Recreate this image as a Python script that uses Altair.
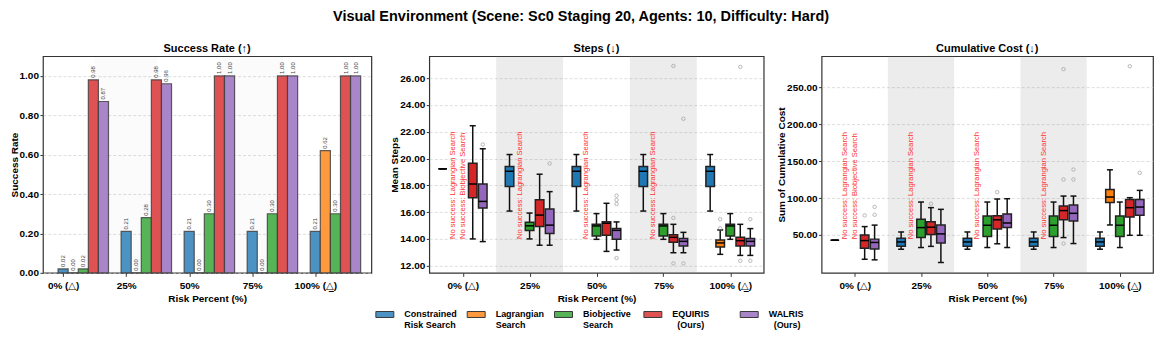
import json
import altair as alt
import pandas as pd

FONT = "Liberation Sans, DejaVu Sans, sans-serif"

# ---------------- data ----------------
categories = ["0% (△)", "25%", "50%", "75%", "100% (△̲)"]
methods = ["Constrained Risk Search", "Lagrangian Search", "Biobjective Search",
           "EQUIRIS (Ours)", "WALRIS (Ours)"]
NB = "\u00a0"
ZW = "\u200b"
legend_lines = [["Constrained", "Risk Search"], ["Lagrangian", "Search"],
                ["Biobjective" + NB + ZW, "Search"],
                ["EQUIRIS" + NB * 8 + ZW, ZW + NB * 2 + "(Ours)"],
                ["WALRIS", ZW + NB * 2 + "(Ours)"]]
bar_colors = ["#4c92c3", "#ff993e", "#56b356", "#de5253", "#a985ca"]
box_colors = ["#1f77b4", "#ff7f0e", "#2ca02c", "#d62728", "#9467bd"]

# success rate per risk level
success_constrained = [0.02, 0.21, 0.21, 0.21, 0.21]
success_lagrangian = [0.00, 0.00, 0.00, 0.00, 0.62]
success_biobjective = [0.02, 0.28, 0.30, 0.30, 0.30]
success_equiris = [0.98, 0.98, 1.00, 1.00, 1.00]
success_walris = [0.87, 0.96, 1.00, 1.00, 1.00]

# box statistics (low whisker, q1, median, q3, high whisker); None = no success
steps_constrained = [(19.23, 19.23, 19.23, 19.23, 19.23), (16.08, 17.92, 19.05, 19.40, 20.30),
                     (16.08, 17.92, 19.05, 19.40, 20.30), (16.08, 17.92, 19.05, 19.40, 20.30),
                     (16.08, 17.92, 19.05, 19.40, 20.30)]
steps_lagrangian = [None, None, None, None, (12.85, 13.40, 13.70, 13.92, 14.67)]
steps_biobjective = [None, (14.00, 14.63, 14.98, 15.25, 15.93), (13.97, 14.22, 14.97, 15.09, 15.89),
                     (13.97, 14.22, 14.97, 15.09, 15.89), (13.97, 14.22, 14.97, 15.09, 15.89)]
steps_equiris = [(14.00, 17.08, 18.10, 19.65, 22.45), (13.53, 14.93, 15.78, 16.93, 18.83),
                 (13.07, 14.27, 15.17, 15.29, 16.66), (12.97, 13.75, 14.12, 14.32, 15.09),
                 (12.77, 13.47, 13.87, 14.12, 15.09)]
steps_walris = [(13.80, 16.30, 16.80, 18.10, 20.73), (13.53, 14.40, 15.03, 16.23, 17.53),
                (13.17, 13.97, 14.64, 14.77, 15.27), (12.97, 13.47, 13.82, 14.04, 14.49),
                (12.77, 13.47, 13.82, 14.04, 14.77)]
steps_outliers_constrained = [[], [], [], [], []]
steps_outliers_lagrangian = [[], [], [], [], [15.47, 14.80]]
steps_outliers_biobjective = [[], [], [], [], []]
steps_outliers_equiris = [[], [], [], [26.91, 15.57, 12.17], [26.84, 12.37]]
steps_outliers_walris = [[21.05], [19.63], [17.24, 16.91, 16.61, 12.57], [22.97, 12.17], [15.47, 12.37]]

cost_constrained = [(42.8, 42.8, 42.8, 42.8, 42.8), (30.6, 34.7, 40.5, 45.5, 54.0),
                    (30.6, 34.7, 40.5, 45.5, 54.0), (30.6, 34.7, 40.5, 45.5, 54.0),
                    (30.6, 34.7, 40.5, 45.5, 54.0)]
cost_lagrangian = [None, None, None, None, (63.5, 94.1, 101.4, 111.7, 138.3)]
cost_biobjective = [None, (32.9, 46.4, 59.9, 71.2, 94.6), (32.9, 47.7, 63.1, 75.7, 94.6),
                    (32.9, 47.7, 63.1, 75.7, 94.6), (32.9, 47.7, 63.1, 75.7, 94.6)]
cost_equiris = [(17.0, 32.0, 42.3, 50.0, 61.3), (34.5, 50.5, 60.5, 68.0, 87.0),
                (38.0, 58.0, 70.5, 76.0, 98.7), (46.4, 70.5, 83.0, 89.2, 102.7),
                (49.5, 74.3, 86.9, 98.2, 100.5)]
cost_walris = [(16.2, 31.0, 39.8, 44.3, 63.3), (12.6, 39.2, 51.4, 63.5, 84.7),
               (32.9, 59.9, 66.2, 78.4, 99.1), (38.3, 68.9, 79.3, 90.5, 102.7),
               (49.5, 76.6, 87.8, 98.2, 110.4)]
cost_outliers_constrained = [[], [], [], [], []]
cost_outliers_lagrangian = [[], [], [], [], []]
cost_outliers_biobjective = [[], [], [], [], []]
cost_outliers_equiris = [[76.4], [92.3], [108.0], [274.8, 125.2, 38.3], [278.8]]
cost_outliers_walris = [[88.0, 77.3], [], [], [138.7, 125.2], [134.2]]

# "no success" notes: (risk index, method index)
no_success_notes = [(0, 1), (0, 2), (1, 1), (2, 1), (3, 1)]
steps_note_y = 14.0
cost_note_y = 44.0

shade_start = [0.5, 2.5]
shade_end = [1.5, 3.5]

box_offsets = [-0.30, -0.15, 0.0, 0.15, 0.30]
bar_step = 0.16
box_half = 0.064
cap_half = 0.045

# ---------------- frames ----------------
success_all = [success_constrained, success_lagrangian, success_biobjective,
               success_equiris, success_walris]
bar_df = pd.DataFrame([
    dict(method=m, k=k, cat=c, value=v)
    for k, (m, vals) in enumerate(zip(methods, success_all))
    for c, v in enumerate(vals)
])


def box_frames(stats_all, outliers_all):
    rows, outs = [], []
    for k, (m, stats, ols) in enumerate(zip(methods, stats_all, outliers_all)):
        for c, s in enumerate(stats):
            if s is not None:
                lo, q1, med, q3, hi = s
                rows.append(dict(method=m, cat=c, off=box_offsets[k], color=box_colors[k],
                                 lo=lo, q1=q1, med=med, q3=q3, hi=hi))
            for o in ols[c]:
                outs.append(dict(method=m, cat=c, off=box_offsets[k], v=o))
    return pd.DataFrame(rows), pd.DataFrame(outs)


steps_df, steps_out = box_frames(
    [steps_constrained, steps_lagrangian, steps_biobjective, steps_equiris, steps_walris],
    [steps_outliers_constrained, steps_outliers_lagrangian, steps_outliers_biobjective,
     steps_outliers_equiris, steps_outliers_walris])
cost_df, cost_out = box_frames(
    [cost_constrained, cost_lagrangian, cost_biobjective, cost_equiris, cost_walris],
    [cost_outliers_constrained, cost_outliers_lagrangian, cost_outliers_biobjective,
     cost_outliers_equiris, cost_outliers_walris])


def notes_df(y):
    return pd.DataFrame([
        dict(cat=c, off=box_offsets[k], y=y, text="No success: " + methods[k])
        for c, k in no_success_notes
    ])


shade_df = pd.DataFrame(dict(s=shade_start, e=shade_end))

label_expr = json.dumps(categories, ensure_ascii=False) + "[datum.value]"


def legend_expr():
    parts = []
    for m, lines in zip(methods, legend_lines):
        parts.append(f"datum.label == {json.dumps(m)} ? {json.dumps(lines, ensure_ascii=False)} : ")
    return "".join(parts) + "datum.label"


def xenc(field, domain, title):
    return alt.X(field, type="quantitative",
                 scale=alt.Scale(domain=domain, nice=False, zero=False),
                 axis=alt.Axis(values=[0, 1, 2, 3, 4], labelExpr=label_expr, title=title,
                               grid=False, tickSize=3.5, labelPadding=4, titlePadding=3))


def yenc(field, domain, values, title):
    return alt.Y(field, type="quantitative",
                 scale=alt.Scale(domain=domain, nice=False, zero=False),
                 axis=alt.Axis(values=values, format=".2f", title=title, grid=True,
                               tickSize=3, labelPadding=1.5, titlePadding=0))


# ---------------- panel 1: success rate ----------------
XD1 = [-0.32, 4.89]
YD1 = [0, 1.1]
yv1 = [0, 0.2, 0.4, 0.6, 0.8, 1.0]
XT = "Risk Percent (%)"
base1 = alt.Chart(bar_df).transform_calculate(
    xc=f"datum.cat + datum.k * {bar_step}",
    x0=f"datum.cat + datum.k * {bar_step} - {bar_step / 2}",
    x1=f"datum.cat + datum.k * {bar_step} + {bar_step / 2}",
)
shade1 = alt.Chart(shade_df).mark_rect(color="gray", opacity=0.035).encode(
    x=xenc("s", XD1, XT), x2="e")
bars = base1.mark_bar(stroke="#3a3a3a", strokeWidth=1.2, strokeOpacity=0.8).encode(
    x=xenc("x0", XD1, XT), x2="x1",
    y=yenc("value", YD1, yv1, "Success Rate"), y2=alt.datum(0),
    color=alt.Color("method:N", scale=alt.Scale(domain=methods, range=bar_colors),
                    legend=alt.Legend(
                        orient="none", legendX=332, legendY=248, direction="horizontal",
                        title=None, symbolType="M-0.9,-0.3H0.9V0.3H-0.9Z", symbolSize=400,
                        labelExpr=legend_expr(), labelFont=FONT, labelFontWeight="bold",
                        labelFontSize=9, labelColor="black", columnPadding=7.5, labelOffset=9,
                        symbolStrokeColor="#3a3a3a", symbolStrokeWidth=1, symbolOpacity=1)),
)
bar_text = base1.mark_text(angle=270, align="left", baseline="middle", dx=2, fontSize=6,
                           color="#444", font=FONT).encode(
    x=xenc("xc", XD1, XT),
    y=yenc("value", YD1, yv1, "Success Rate"),
    text=alt.Text("value:Q", format=".2f"))
p1 = alt.layer(shade1, bars, bar_text).properties(
    width=329, height=217,
    title=alt.TitleParams("Success Rate (↑)", fontSize=11, offset=2))


# ---------------- box panels ----------------
def box_panel(df, outs, notes, ydom, yvals, ytitle, title, width):
    XD = [-0.5, 4.5]
    base = alt.Chart(df).transform_calculate(
        xc="datum.cat + datum.off",
        xl=f"datum.cat + datum.off - {box_half}",
        xr=f"datum.cat + datum.off + {box_half}",
        cl=f"datum.cat + datum.off - {cap_half}",
        cr=f"datum.cat + datum.off + {cap_half}",
    )
    shade = alt.Chart(shade_df).mark_rect(color="gray", opacity=0.15).encode(
        x=xenc("s", XD, XT), x2="e")
    whisk = base.mark_rule(color="#111", strokeWidth=1.5).encode(
        x=xenc("xc", XD, XT), y=yenc("lo", ydom, yvals, ytitle), y2="hi")
    cap_lo = base.mark_rule(color="#111", strokeWidth=1.5).encode(
        x=xenc("cl", XD, XT), x2="cr", y=yenc("lo", ydom, yvals, ytitle))
    cap_hi = base.mark_rule(color="#111", strokeWidth=1.5).encode(
        x=xenc("cl", XD, XT), x2="cr", y=yenc("hi", ydom, yvals, ytitle))
    box = base.mark_bar(stroke="#222", strokeWidth=1.5).encode(
        x=xenc("xl", XD, XT), x2="xr", y=yenc("q1", ydom, yvals, ytitle), y2="q3",
        fill=alt.Fill("color:N", scale=None))
    med = base.mark_rule(color="#000", strokeWidth=1.5).encode(
        x=xenc("xl", XD, XT), x2="xr", y=yenc("med", ydom, yvals, ytitle))
    pts = alt.Chart(outs).transform_calculate(xc="datum.cat + datum.off").mark_point(
        shape="circle", filled=False, color="#9a9a9a", size=12, strokeWidth=1).encode(
        x=xenc("xc", XD, XT), y=yenc("v", ydom, yvals, ytitle))
    txt = alt.Chart(notes).transform_calculate(xc="datum.cat + datum.off").mark_text(
        angle=270, align="left", baseline="middle", fontSize=7.6, color="#ff3030",
        font=FONT).encode(
        x=xenc("xc", XD, XT), y=yenc("y", ydom, yvals, ytitle), text="text:N")
    return alt.layer(shade, whisk, cap_lo, cap_hi, box, med, pts, txt).properties(
        width=width, height=217,
        title=alt.TitleParams(title, fontSize=11, offset=2))


p2 = box_panel(steps_df, steps_out, notes_df(steps_note_y), [11.47, 27.64],
               [12, 14, 16, 18, 20, 22, 24, 26], "Mean Steps", "Steps (↓)", 335)
p3 = box_panel(cost_df, cost_out, notes_df(cost_note_y), [-1.4, 292.4],
               [50, 100, 150, 200, 250], "Sum of Cumulative Cost", "Cumulative Cost (↓)", 332)

chart = alt.hconcat(p1, p2, p3, spacing=58, bounds="flush").properties(
    padding=0,
    title=alt.TitleParams(
        "Visual Environment (Scene: Sc0 Staging 20, Agents: 10, Difficulty: Hard)",
        fontSize=14.5, fontWeight="bold", anchor="middle", offset=18, font=FONT),
).configure_view(stroke="#333", strokeWidth=1.2).configure_axis(
    domain=False, labelFont=FONT, titleFont=FONT, labelFontWeight="bold",
    titleFontWeight="bold", labelFontSize=10, titleFontSize=10, labelColor="black",
    titleColor="black", tickColor="#333", gridColor="#cfcfcf", gridDash=[3, 2],
    gridWidth=0.7,
).configure_title(font=FONT, fontWeight="bold", color="black")

chart.save("out.html", embed_options={"renderer": "svg", "actions": False})
